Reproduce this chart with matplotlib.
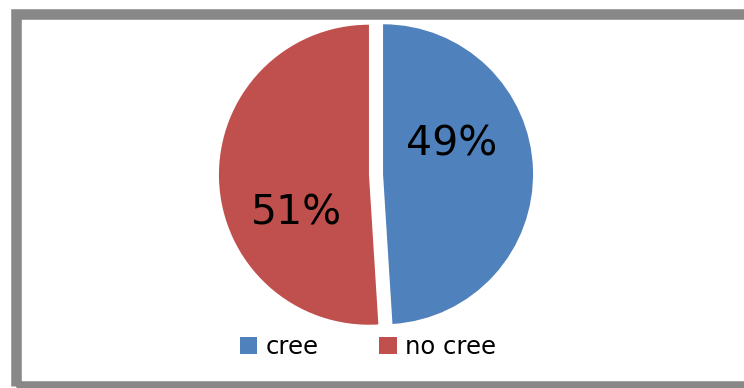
import matplotlib
matplotlib.use('Agg')
import matplotlib.pyplot as plt
from matplotlib.patches import Rectangle, Patch

# Data
labels = ['cree', 'no cree']
shares = [49, 51]
pct_text = ['49%', '51%']
colors = ['#4f81bd', '#c0504d']

W, H = 744, 388
fig = plt.figure(figsize=(W / 100, H / 100), dpi=100)
fig.patch.set_facecolor('white')

# grey frame (right side runs off the image)
fig.patches.append(Rectangle((15.5 / W, 2 / H), 740 / W, 372 / H,
                             transform=fig.transFigure, fill=False,
                             edgecolor='#888888', linewidth=7.6))

# pie axes: centre (376, 174.5) px, radius 150 px
r = 150
cx, cy = 376, H - 174.5
half = 1.1 * r
ax = fig.add_axes([(cx - half) / W, (cy - half) / H, 2 * half / W, 2 * half / H])

ax.pie(shares, colors=colors, startangle=90, counterclock=False,
       explode=[0.047, 0.047], radius=1.0,
       wedgeprops=dict(linewidth=0))
ax.set_xlim(-1.1, 1.1)
ax.set_ylim(-1.1, 1.1)
ax.set_aspect('equal')
ax.axis('off')

label_pos = [(0.507, 0.197), (-0.533, -0.257)]
for (x, y), t in zip(label_pos, pct_text):
    ax.text(x, y, t, fontsize=29.5, ha='center', va='center', color='black',
            family='DejaVu Sans')

handles = [Patch(facecolor=c, edgecolor='none') for c in colors]
fig.legend(handles, labels, loc='center', bbox_to_anchor=(368 / W, (H - 347) / H),
           ncol=2, frameon=False, fontsize=17.5, handlelength=0.72, handleheight=0.72,
           handletextpad=0.35, columnspacing=2.5, borderpad=0)

fig.savefig('out.png', dpi=100)
